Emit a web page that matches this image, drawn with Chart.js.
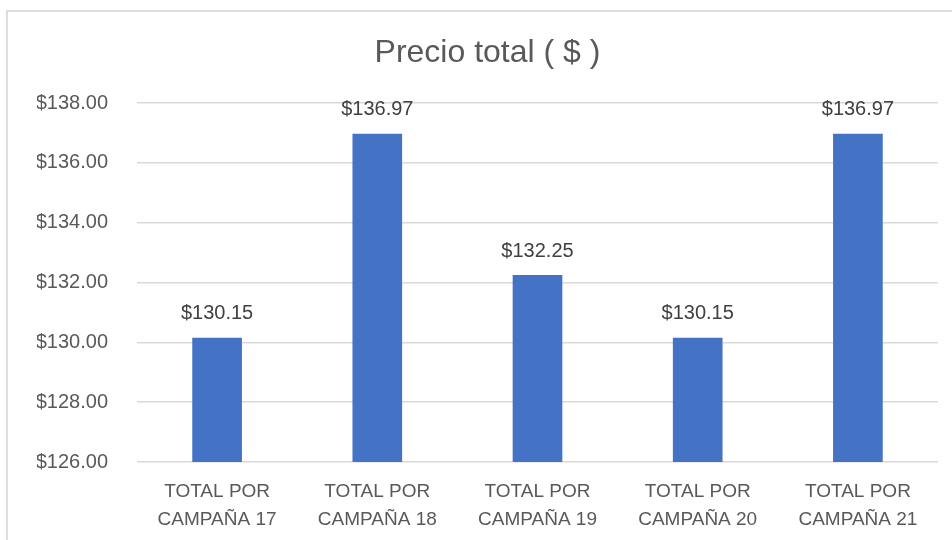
<!DOCTYPE html>
<html>
<head>
<meta charset="utf-8">
<script src="https://cdn.jsdelivr.net/npm/chart.js@4/dist/chart.umd.min.js"></script>
<style>
  body { margin: 0; background: #fff; }
  #wrap { position: relative; width: 952px; height: 540px; overflow: hidden; }
  #frame { position: absolute; left: 6px; top: 10px; width: 960px; height: 540px;
           border-top: 2px solid #dedede; border-left: 2px solid #dedede; }
  canvas { position: absolute; left: 0; top: 0; }
</style>
</head>
<body>
<div id="wrap">
  <div id="frame"></div>
  <canvas id="myChart" width="952" height="540"></canvas>
</div>
<script>
// chart data
const categories = [
  ["TOTAL POR", "CAMPAÑA 17"],
  ["TOTAL POR", "CAMPAÑA 18"],
  ["TOTAL POR", "CAMPAÑA 19"],
  ["TOTAL POR", "CAMPAÑA 20"],
  ["TOTAL POR", "CAMPAÑA 21"]
];
const prices = [130.15, 136.97, 132.25, 130.15, 136.97];
const yMin = 126;
const yMax = 138;
const yStep = 2;

const FONT = "'Liberation Sans', Arial, sans-serif";

function money(v) {
  return "$" + Number(v).toFixed(2);
}

// value labels above bars
const barLabels = {
  id: "barLabels",
  afterDatasetsDraw(chart) {
    const ctx = chart.ctx;
    const meta = chart.getDatasetMeta(0);
    ctx.save();
    ctx.font = "20px " + FONT;
    ctx.fillStyle = "#404040";
    ctx.textAlign = "center";
    ctx.textBaseline = "bottom";
    meta.data.forEach((bar, i) => {
      ctx.fillText(money(prices[i]), bar.x, bar.y - 14);
    });
    ctx.restore();
  }
};

new Chart(document.getElementById("myChart"), {
  type: "bar",
  data: {
    labels: categories,
    datasets: [{
      data: prices,
      backgroundColor: "#4472C4",
      barPercentage: 0.31,
      categoryPercentage: 1
    }]
  },
  options: {
    responsive: false,
    animation: false,
    layout: { padding: { left: 37, right: 14, top: 0, bottom: 0 } },
    plugins: {
      legend: { display: false },
      tooltip: { enabled: false },
      title: {
        display: true,
        text: "Precio total ( $ )",
        color: "#595959",
        font: { family: FONT, size: 32, weight: "normal", lineHeight: 1.2 },
        padding: { top: 34, bottom: 30.6 }
      }
    },
    scales: {
      x: {
        grid: { display: false, drawTicks: false },
        border: { display: false },
        ticks: {
          color: "#595959",
          font: { family: FONT, size: 19, lineHeight: 1.45 },
          padding: 16,
          maxRotation: 0
        },
        afterFit(axis) { axis.height = 78; }
      },
      y: {
        min: yMin,
        max: yMax,
        grid: { color: "#d9d9d9", lineWidth: 1.5, drawTicks: false },
        border: { display: false },
        ticks: {
          stepSize: yStep,
          color: "#595959",
          font: { family: FONT, size: 20 },
          padding: 29,
          callback: (v) => money(v)
        },
        afterFit(axis) { axis.width = 100; }
      }
    }
  },
  plugins: [barLabels]
});
</script>
</body>
</html>
